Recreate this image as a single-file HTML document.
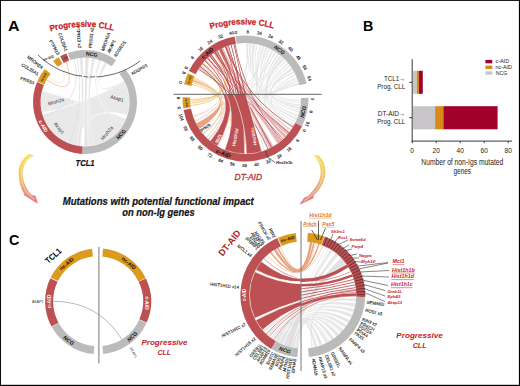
<!DOCTYPE html>
<html><head><meta charset="utf-8"><style>
html,body{margin:0;padding:0;background:#fff;}
svg{display:block;}
text{font-family:"Liberation Sans", sans-serif;}
</style></head><body>
<svg width="520" height="386" viewBox="0 0 520 386">
<rect x="0" y="0" width="520" height="386" fill="#fff"/>
<text x="8" y="30.7" font-size="14.3" fill="#000" font-weight="bold" font-style="normal" text-anchor="start" textLength="11.6" lengthAdjust="spacingAndGlyphs" >A</text>
<path d="M41.82,112.77A44.5,44.5 0 0 1 42.02,90.48Q85,102 126.26,118.67A44.5,44.5 0 0 1 88.1,146.39Q85,102 41.82,112.77Z" fill="#e9e9e9" stroke="#fff" stroke-width="0.8"/>
<path d="M77.27,145.82A44.5,44.5 0 0 1 42.22,114.27Q85,102 125,82.49A44.5,44.5 0 0 1 127.32,115.75Q85,102 77.27,145.82Z" fill="#e9e9e9" stroke="#fff" stroke-width="0.8"/>
<path d="M79.58,57.83A44.5,44.5 0 0 1 82.67,57.56Q85,102 80.35,146.26A44.5,44.5 0 0 1 77.27,145.82Q85,102 79.58,57.83Z" fill="#e4e4e4" stroke="#fff" stroke-width="0.4"/>
<path d="M85,57.5A44.5,44.5 0 0 1 88.88,57.67Q85,102 88.1,146.39A44.5,44.5 0 0 1 84.22,146.49Q85,102 85,57.5Z" fill="#e4e4e4" stroke="#fff" stroke-width="0.4"/>
<path d="M91.96,58.05A44.5,44.5 0 0 1 95.01,58.64Q85,102 93.49,145.68A44.5,44.5 0 0 1 90.42,146.17Q85,102 91.96,58.05Z" fill="#e6e6e6" stroke="#fff" stroke-width="0.4"/>
<path d="M98.75,59.68A44.5,44.5 0 0 1 100.95,60.46Q85,102 124.29,122.89A44.5,44.5 0 0 1 123.14,124.92Q85,102 98.75,59.68Z" fill="#e9e9e9" stroke="#fff" stroke-width="0.3"/>
<path d="M104.51,62A44.5,44.5 0 0 1 107.25,63.46Q85,102 124.29,81.11A44.5,44.5 0 0 1 125.65,83.9Q85,102 104.51,62Z" fill="#e9e9e9" stroke="#fff" stroke-width="0.3"/>
<path d="M74.23,58.82Q85,102 43.18,117.22" fill="none" stroke="#e0e0e0" stroke-width="0.8" />
<path d="M77.27,58.18Q85,102 69.78,143.82" fill="none" stroke="#e0e0e0" stroke-width="0.8" />
<path d="M66.19,61.67Q78,100 46.46,79.75" fill="none" stroke="#eeaa88" stroke-width="0.6" />
<path d="M60.76,64.68Q72,92 47.68,77.76" fill="none" stroke="#f6d2c0" stroke-width="0.5" />
<path d="M53.13,60.91A52,52 0 0 1 58.61,57.2L62.41,63.66A44.5,44.5 0 0 0 57.73,66.84Z" fill="#dc9a1e" />
<path d="M60.11,56.34A52,52 0 0 1 66.53,53.39L69.2,60.4A44.5,44.5 0 0 0 63.7,62.93Z" fill="#bc5052" />
<path d="M67.81,52.92A52,52 0 0 1 116.08,60.31L111.59,66.32A44.5,44.5 0 0 0 70.29,60Z" fill="#bbbbbb" />
<path d="M125.3,69.13A52,52 0 0 1 82.19,153.92L82.59,146.43A44.5,44.5 0 0 0 119.49,73.87Z" fill="#bbbbbb" />
<path d="M82.19,153.92A52,52 0 0 1 36.99,82.02L43.92,84.9A44.5,44.5 0 0 0 82.59,146.43Z" fill="#bc5052" />
<path d="M37.24,81.43A52,52 0 0 1 44.82,68.99L50.61,73.75A44.5,44.5 0 0 0 44.13,84.4Z" fill="#dc9a1e" />
<path d="M38,55A78,78 0 0 0 140,61" fill="none" stroke="#333" stroke-width="0.75"/>
<rect x="82" y="74" width="1.6" height="6" fill="#f2f2f2"/>
<rect x="88.2" y="74" width="1.6" height="6" fill="#f2f2f2"/>
<rect x="95" y="74" width="1.6" height="6" fill="#f2f2f2"/>
<text x="91.47" y="55.97" font-size="5.2" fill="#111" font-weight="bold" font-style="normal" text-anchor="middle" transform="rotate(8 91.47 55.97)" >NCG</text>
<text x="122.25" y="135.54" font-size="5.2" fill="#111" font-weight="bold" font-style="normal" text-anchor="middle" transform="rotate(312 122.25 135.54)" >NCG</text>
<text x="41.66" y="127.03" font-size="5" fill="#fff" font-weight="bold" font-style="normal" text-anchor="middle" transform="rotate(420 41.66 127.03)" >c-AID</text>
<text x="44.5" y="77.66" font-size="3" fill="#222" font-weight="bold" font-style="normal" text-anchor="middle" transform="rotate(301 44.5 77.66)" >nc-AID</text>
<text x="65.14" y="58.82" font-size="2.2" fill="#333" font-weight="bold" font-style="normal" text-anchor="middle" transform="rotate(335.3 65.14 58.82)" >c-AID</text>
<text x="48.8" y="59.2" font-size="3.6" fill="#222" font-weight="bold" font-style="normal" text-anchor="middle" transform="rotate(-18 48.8 59.2)" textLength="11" lengthAdjust="spacingAndGlyphs" >nc-AID</text>
<text x="56.5" y="103.3" font-size="5" fill="#333" font-weight="normal" font-style="normal" text-anchor="middle" transform="rotate(-16 56.5 103.3)" textLength="16.5" lengthAdjust="spacingAndGlyphs" >Mroh2a</text>
<text x="116.6" y="100.2" font-size="5" fill="#333" font-weight="normal" font-style="normal" text-anchor="middle" transform="rotate(16 116.6 100.2)" textLength="13.5" lengthAdjust="spacingAndGlyphs" >Akap1</text>
<text x="57.8" y="129.3" font-size="5" fill="#333" font-weight="normal" font-style="normal" text-anchor="middle" transform="rotate(50 57.8 129.3)" textLength="13.5" lengthAdjust="spacingAndGlyphs" >Akap1</text>
<text x="108.3" y="134.2" font-size="5" fill="#333" font-weight="normal" font-style="normal" text-anchor="middle" transform="rotate(-50 108.3 134.2)" textLength="16.5" lengthAdjust="spacingAndGlyphs" >Mroh2a</text>
<text x="57.08" y="55.4" font-size="4.4" fill="#222" font-weight="normal" font-style="normal" text-anchor="end" transform="rotate(60.7 57.08 55.4)" stroke="#222" stroke-width="0.12">PTPN13</text>
<text x="64.81" y="51.57" font-size="4.4" fill="#222" font-weight="normal" font-style="normal" text-anchor="end" transform="rotate(69.8 64.81 51.57)" stroke="#222" stroke-width="0.12">COL25A1</text>
<text x="78.26" y="48.1" font-size="4.4" fill="#222" font-weight="normal" font-style="normal" text-anchor="end" transform="rotate(84.5 78.26 48.1)" stroke="#222" stroke-width="0.12">PTPN13 x2</text>
<text x="91.74" y="48.1" font-size="4.4" fill="#222" font-weight="normal" font-style="normal" text-anchor="start" transform="rotate(-84.5 91.74 48.1)" stroke="#222" stroke-width="0.12">PRSS3 x2</text>
<text x="104.05" y="51.13" font-size="4.4" fill="#222" font-weight="normal" font-style="normal" text-anchor="start" transform="rotate(-71.1 104.05 51.13)" stroke="#222" stroke-width="0.12">MROH2A</text>
<text x="109.68" y="53.61" font-size="4.4" fill="#222" font-weight="normal" font-style="normal" text-anchor="start" transform="rotate(-64.6 109.68 53.61)" stroke="#222" stroke-width="0.12">AKAP1</text>
<text x="116.02" y="57.41" font-size="4.4" fill="#222" font-weight="normal" font-style="normal" text-anchor="start" transform="rotate(-56.8 116.02 57.41)" stroke="#222" stroke-width="0.12">ADGRD1</text>
<text x="132.34" y="75.35" font-size="4.4" fill="#222" font-weight="normal" font-style="normal" text-anchor="start" transform="rotate(-31 132.34 75.35)" stroke="#222" stroke-width="0.12">ADGRD1</text>
<text x="41.55" y="69.4" font-size="4.4" fill="#222" font-weight="normal" font-style="normal" text-anchor="end" transform="rotate(38.5 41.55 69.4)" stroke="#222" stroke-width="0.12">MROH2A</text>
<text x="37.52" y="75.6" font-size="4.4" fill="#222" font-weight="normal" font-style="normal" text-anchor="end" transform="rotate(30.7 37.52 75.6)" stroke="#222" stroke-width="0.12">COL25A1</text>
<text x="33.57" y="84.52" font-size="4.4" fill="#222" font-weight="normal" font-style="normal" text-anchor="end" transform="rotate(20.4 33.57 84.52)" stroke="#222" stroke-width="0.12">PRSS3</text>
<path id="arcA1" d="M50,31.6 Q82,22.4 114,30.8" fill="none"/>
<text font-size="8.6" font-weight="bold" fill="#c8221f" stroke="#c8221f" stroke-width="0.25" font-family='"Liberation Sans", sans-serif'><textPath href="#arcA1" startOffset="50%" text-anchor="middle" textLength="64" lengthAdjust="spacingAndGlyphs">Progressive CLL</textPath></text>
<text x="85" y="165.8" font-size="8.2" fill="#111" font-weight="bold" font-style="italic" text-anchor="middle" textLength="19" lengthAdjust="spacingAndGlyphs" stroke="#111" stroke-width="0.2">TCL1</text>
<path d="M245.98,43A55.5,55.5 0 0 1 247.92,43.05Q245.5,98.5 300.68,104.49A55.5,55.5 0 0 1 300.49,106.03Q245.5,98.5 245.98,43Z" fill="#e9e9e9" />
<path d="M249.56,43.15A55.5,55.5 0 0 1 251.11,43.28Q245.5,98.5 299.5,111.32A55.5,55.5 0 0 1 299.2,112.53Q245.5,98.5 249.56,43.15Z" fill="#e9e9e9" />
<path d="M252.55,43.45A55.5,55.5 0 0 1 254.85,43.79Q245.5,98.5 297.3,118.43A55.5,55.5 0 0 1 296.6,120.15Q245.5,98.5 252.55,43.45Z" fill="#e9e9e9" />
<path d="M256.47,44.09A55.5,55.5 0 0 1 257.61,44.34Q245.5,98.5 300.98,99.97A55.5,55.5 0 0 1 300.95,100.9Q245.5,98.5 256.47,44.09Z" fill="#e9e9e9" />
<path d="M259.77,44.87A55.5,55.5 0 0 1 260.89,45.18Q245.5,98.5 281.53,140.72A55.5,55.5 0 0 1 280.82,141.31Q245.5,98.5 259.77,44.87Z" fill="#e9e9e9" />
<path d="M263.02,45.84A55.5,55.5 0 0 1 264.12,46.22Q245.5,98.5 273.65,146.33A55.5,55.5 0 0 1 272.85,146.8Q245.5,98.5 263.02,45.84Z" fill="#e9e9e9" />
<path d="M265.84,46.86A55.5,55.5 0 0 1 267.63,47.6Q245.5,98.5 298.52,114.91A55.5,55.5 0 0 1 298.04,116.39Q245.5,98.5 265.84,46.86Z" fill="#e9e9e9" />
<path d="M269.31,48.36A55.5,55.5 0 0 1 270.35,48.87Q245.5,98.5 288.31,133.82A55.5,55.5 0 0 1 287.72,134.53Q245.5,98.5 269.31,48.36Z" fill="#e9e9e9" />
<path d="M272.15,49.82A55.5,55.5 0 0 1 273.5,50.58Q245.5,98.5 300.26,107.53A55.5,55.5 0 0 1 300.05,108.75Q245.5,98.5 272.15,49.82Z" fill="#e9e9e9" />
<path d="M275.24,51.64A55.5,55.5 0 0 1 276.21,52.27Q245.5,98.5 264.92,150.49A55.5,55.5 0 0 1 264.04,150.81Q245.5,98.5 275.24,51.64Z" fill="#e9e9e9" />
<path d="M278.04,53.54A55.5,55.5 0 0 1 278.98,54.23Q245.5,98.5 300.9,101.91A55.5,55.5 0 0 1 300.83,102.84Q245.5,98.5 278.04,53.54Z" fill="#e9e9e9" />
<path d="M280.28,55.25A55.5,55.5 0 0 1 282.06,56.74Q245.5,98.5 294.02,125.44A55.5,55.5 0 0 1 293.09,127.05Q245.5,98.5 280.28,55.25Z" fill="#e9e9e9" />
<path d="M282.85,57.45A55.5,55.5 0 0 1 284.54,59.05Q245.5,98.5 285.4,137.08A55.5,55.5 0 0 1 284.08,138.4Q245.5,98.5 282.85,57.45Z" fill="#e9e9e9" />
<path d="M285.69,60.23A55.5,55.5 0 0 1 286.48,61.08Q245.5,98.5 300.52,105.76A55.5,55.5 0 0 1 300.39,106.68Q245.5,98.5 285.69,60.23Z" fill="#e9e9e9" />
<path d="M287.83,62.6A55.5,55.5 0 0 1 288.81,63.8Q245.5,98.5 277.84,143.6A55.5,55.5 0 0 1 276.82,144.32Q245.5,98.5 287.83,62.6Z" fill="#e9e9e9" />
<path d="M290.06,65.41A55.5,55.5 0 0 1 290.74,66.35Q245.5,98.5 297.81,117.04A55.5,55.5 0 0 1 297.49,117.92Q245.5,98.5 290.06,65.41Z" fill="#e9e9e9" />
<path d="M291.67,67.71A55.5,55.5 0 0 1 292.92,69.67Q245.5,98.5 291.49,129.57A55.5,55.5 0 0 1 290.42,131.09Q245.5,98.5 291.67,67.71Z" fill="#e9e9e9" />
<path d="M293.76,71.09A55.5,55.5 0 0 1 294.32,72.1Q245.5,98.5 299.88,109.58A55.5,55.5 0 0 1 299.69,110.49Q245.5,98.5 293.76,71.09Z" fill="#e9e9e9" />
<path d="M295.34,74.08A55.5,55.5 0 0 1 295.84,75.13Q245.5,98.5 269.38,148.6A55.5,55.5 0 0 1 268.53,148.99Q245.5,98.5 295.34,74.08Z" fill="#e9e9e9" />
<path d="M296.66,76.99A55.5,55.5 0 0 1 297.24,78.43Q245.5,98.5 296.06,121.39A55.5,55.5 0 0 1 295.53,122.52Q245.5,98.5 296.66,76.99Z" fill="#e9e9e9" />
<path d="M297.94,80.34A55.5,55.5 0 0 1 298.31,81.44Q245.5,98.5 230.65,151.98A55.5,55.5 0 0 1 229.76,151.72Q245.5,98.5 297.94,80.34Z" fill="#e9e9e9" />
<path d="M298.66,82.55A55.5,55.5 0 0 1 299.28,84.79Q245.5,98.5 209.06,140.36A55.5,55.5 0 0 1 207.68,139.12Q245.5,98.5 298.66,82.55Z" fill="#e9e9e9" />
<path d="M248.4,43.08Q245.5,98.5 226.52,150.65" fill="none" stroke="#d9d9d9" stroke-width="0.45" />
<path d="M255.14,43.84Q245.5,98.5 208.36,139.74" fill="none" stroke="#d9d9d9" stroke-width="0.45" />
<path d="M251.3,43.3Q245.5,98.5 195.2,121.96" fill="none" stroke="#d9d9d9" stroke-width="0.45" />
<path d="M264.48,46.35Q245.5,98.5 235.86,153.16" fill="none" stroke="#d9d9d9" stroke-width="0.45" />
<path d="M272.41,49.96Q245.5,98.5 250.34,153.79" fill="none" stroke="#d9d9d9" stroke-width="0.45" />
<path d="M278.9,54.18Q245.5,98.5 257.04,152.79" fill="none" stroke="#d9d9d9" stroke-width="0.45" />
<path d="M284.74,59.26Q245.5,98.5 193.35,117.48" fill="none" stroke="#d9d9d9" stroke-width="0.45" />
<path d="M275.73,51.95Q245.5,98.5 217.75,146.56" fill="none" stroke="#d9d9d9" stroke-width="0.45" />
<path d="M289.82,65.1Q245.5,98.5 240.66,153.79" fill="none" stroke="#d9d9d9" stroke-width="0.45" />
<path d="M294.04,71.59Q245.5,98.5 202.98,134.17" fill="none" stroke="#d9d9d9" stroke-width="0.45" />
<path d="M268.96,48.2Q245.5,98.5 200.04,130.33" fill="none" stroke="#d9d9d9" stroke-width="0.45" />
<path d="M261.73,45.43Q245.5,98.5 281.17,141.02" fill="none" stroke="#d9d9d9" stroke-width="0.45" />
<path d="M282.64,57.26Q245.5,98.5 289.23,132.67" fill="none" stroke="#d9d9d9" stroke-width="0.45" />
<path d="M292.57,69.09Q245.5,98.5 300.16,108.14" fill="none" stroke="#d9d9d9" stroke-width="0.45" />
<path d="M297.65,79.52Q245.5,98.5 294.5,124.56" fill="none" stroke="#d9d9d9" stroke-width="0.45" />
<path d="M198.43,69.09A55.5,55.5 0 0 1 201.18,65.1Q245.5,98.5 273.25,146.56A55.5,55.5 0 0 1 268.07,149.2Q245.5,98.5 198.43,69.09Z" fill="#e6e6e6" />
<path d="M191.89,84.14Q245.5,98.5 226.52,150.65" fill="none" stroke="#efc070" stroke-width="0.7" />
<path d="M192.43,82.27Q245.5,98.5 202.98,134.17" fill="none" stroke="#efc070" stroke-width="0.7" />
<path d="M193.51,79.06Q245.5,98.5 237.78,153.46" fill="none" stroke="#efc070" stroke-width="0.7" />
<path d="M194.04,77.71Q245.5,98.5 206.26,137.74" fill="none" stroke="#efc070" stroke-width="0.7" />
<path d="M190.47,105.74Q245.5,98.5 202.98,62.83" fill="none" stroke="#ecbb5c" stroke-width="0.7" />
<path d="M190.21,103.34Q245.5,98.5 213.67,53.04" fill="none" stroke="#ecbb5c" stroke-width="0.7" />
<path d="M190.08,101.4Q245.5,98.5 219.44,49.5" fill="none" stroke="#ecbb5c" stroke-width="0.7" />
<path d="M190.01,99.47Q245.5,98.5 198.95,68.27" fill="none" stroke="#ecbb5c" stroke-width="0.7" />
<path d="M199.17,129.05A55.5,55.5 0 0 1 195.96,123.52Q245.5,98.5 192.78,81.17A55.5,55.5 0 0 1 193.15,80.07Q245.5,98.5 199.17,129.05Z" fill="#e9a27f" />
<path d="M208.36,139.74Q245.5,98.5 201.77,64.33" fill="none" stroke="#eebcb8" stroke-width="0.6" />
<path d="M202.98,134.17Q245.5,98.5 222.04,48.2" fill="none" stroke="#eebcb8" stroke-width="0.6" />
<path d="M194.8,121.07Q245.5,98.5 206.95,58.58" fill="none" stroke="#eebcb8" stroke-width="0.6" />
<path d="M193.02,116.57Q245.5,98.5 219.44,49.5" fill="none" stroke="#eebcb8" stroke-width="0.6" />
<path d="M213.67,53.04A55.5,55.5 0 0 1 216.92,50.93Q245.5,98.5 273.25,146.56A55.5,55.5 0 0 1 269.83,148.38Q245.5,98.5 213.67,53.04Z" fill="#e7b3b3" />
<path d="M219.44,49.5A55.5,55.5 0 0 1 222.93,47.8Q245.5,98.5 281.17,141.02A55.5,55.5 0 0 1 278.12,143.4Q245.5,98.5 219.44,49.5Z" fill="#e7b3b3" />
<path d="M209.09,56.61A55.5,55.5 0 0 1 211.33,54.77Q245.5,98.5 289.23,132.67A55.5,55.5 0 0 1 287.39,134.91Q245.5,98.5 209.09,56.61Z" fill="#e7b3b3" />
<path d="M224.71,47.04A55.5,55.5 0 0 1 227.43,46.02Q245.5,98.5 286.74,135.64A55.5,55.5 0 0 1 284.74,137.74Q245.5,98.5 224.71,47.04Z" fill="#e7b3b3" />
<path d="M198.43,69.09Q245.5,98.5 268.07,149.2" fill="none" stroke="#b8393d" stroke-width="0.7" />
<path d="M207.65,57.91Q245.5,98.5 283.35,139.09" fill="none" stroke="#b8393d" stroke-width="0.7" />
<path d="M214.46,52.49Q245.5,98.5 289.23,132.67" fill="none" stroke="#b8393d" stroke-width="0.7" />
<path d="M225.61,46.69Q245.5,98.5 293.07,127.08" fill="none" stroke="#b8393d" stroke-width="0.7" />
<path d="M234.91,44.02Q245.5,98.5 281.91,140.39" fill="none" stroke="#b8393d" stroke-width="0.7" />
<path d="M220.3,49.05Q245.5,98.5 271.56,147.5" fill="none" stroke="#b8393d" stroke-width="0.7" />
<path d="M205.58,59.95Q245.5,98.5 280.43,141.63" fill="none" stroke="#e8b8b8" stroke-width="0.7" />
<path d="M217.75,50.44Q245.5,98.5 290.96,130.33" fill="none" stroke="#e8b8b8" stroke-width="0.7" />
<path d="M214.95,52.17A55.5,55.5 0 0 1 215.6,51.74Q245.5,98.5 217.25,146.27A55.5,55.5 0 0 1 214.76,144.71Q245.5,98.5 214.95,52.17Z" fill="#b54446" />
<path d="M204.65,60.93A55.5,55.5 0 0 1 205.18,60.37Q245.5,98.5 214.76,144.71A55.5,55.5 0 0 1 212.36,143.02Q245.5,98.5 204.65,60.93Z" fill="#b54446" />
<path d="M199.82,66.98A55.5,55.5 0 0 1 200.26,66.35Q245.5,98.5 212.36,143.02A55.5,55.5 0 0 1 210.05,141.2Q245.5,98.5 199.82,66.98Z" fill="#b54446" />
<path d="M230.76,44.99A55.5,55.5 0 0 1 231.51,44.79Q245.5,98.5 244.53,153.99A55.5,55.5 0 0 1 241.63,153.86Q245.5,98.5 230.76,44.99Z" fill="#b54446" />
<path d="M225.25,46.83A55.5,55.5 0 0 1 225.97,46.55Q245.5,98.5 241.63,153.86A55.5,55.5 0 0 1 238.74,153.59Q245.5,98.5 225.25,46.83Z" fill="#b54446" />
<path d="M220.82,48.79A55.5,55.5 0 0 1 221.52,48.45Q245.5,98.5 238.74,153.59A55.5,55.5 0 0 1 235.86,153.16Q245.5,98.5 220.82,48.79Z" fill="#b54446" />
<path d="M216.58,51.13A55.5,55.5 0 0 1 217.25,50.73Q245.5,98.5 235.86,153.16A55.5,55.5 0 0 1 233.02,152.58Q245.5,98.5 216.58,51.13Z" fill="#b54446" />
<path d="M211.03,55.01A55.5,55.5 0 0 1 211.64,54.53Q245.5,98.5 233.02,152.58A55.5,55.5 0 0 1 230.2,151.85Q245.5,98.5 211.03,55.01Z" fill="#b54446" />
<path d="M207.37,58.18A55.5,55.5 0 0 1 207.93,57.65Q245.5,98.5 230.2,151.85A55.5,55.5 0 0 1 227.43,150.98Q245.5,98.5 207.37,58.18Z" fill="#b54446" />
<path d="M202.13,63.87A55.5,55.5 0 0 1 202.61,63.27Q245.5,98.5 227.43,150.98A55.5,55.5 0 0 1 224.71,149.96Q245.5,98.5 202.13,63.87Z" fill="#b54446" />
<path d="M233.58,44.29A55.5,55.5 0 0 1 234.34,44.13Q245.5,98.5 261.73,151.57A55.5,55.5 0 0 1 257.98,152.58Q245.5,98.5 233.58,44.29Z" fill="#b54446" />
<path d="M227.98,45.84A55.5,55.5 0 0 1 228.72,45.6Q245.5,98.5 257.98,152.58A55.5,55.5 0 0 1 254.18,153.32Q245.5,98.5 227.98,45.84Z" fill="#b54446" />
<path d="M219.1,49.68A55.5,55.5 0 0 1 219.79,49.32Q245.5,98.5 254.18,153.32A55.5,55.5 0 0 1 250.34,153.79Q245.5,98.5 219.1,49.68Z" fill="#b54446" />
<path d="M209.53,56.23A55.5,55.5 0 0 1 210.12,55.74Q245.5,98.5 250.34,153.79A55.5,55.5 0 0 1 246.47,153.99Q245.5,98.5 209.53,56.23Z" fill="#b54446" />
<clipPath id="cpA2"><rect x="170" y="94.3" width="160" height="80"/></clipPath>
<g clip-path="url(#cpA2)">
<path d="M199.76,67.06A55.5,55.5 0 0 1 215.68,51.69Q245.5,98.5 217.25,146.27A55.5,55.5 0 0 1 210.05,141.2Q245.5,98.5 199.76,67.06Z" fill="#bc5052" stroke="#fff" stroke-width="0.6"/>
<path d="M202.07,63.95A55.5,55.5 0 0 1 231.6,44.77Q245.5,98.5 244.53,153.99A55.5,55.5 0 0 1 224.71,149.96Q245.5,98.5 202.07,63.95Z" fill="#bc5052" stroke="#fff" stroke-width="0.6"/>
<path d="M209.46,56.3A55.5,55.5 0 0 1 234.44,44.11Q245.5,98.5 261.73,151.57A55.5,55.5 0 0 1 246.47,153.99Q245.5,98.5 209.46,56.3Z" fill="#bc5052" stroke="#fff" stroke-width="0.6"/>
</g>
<path d="M184.11,84.33A63,63 0 0 1 187.81,73.18L194.68,76.19A55.5,55.5 0 0 0 191.42,86.02Z" fill="#dc9a1e" />
<path d="M188.88,70.88A63,63 0 0 1 234.67,36.44L235.96,43.83A55.5,55.5 0 0 0 195.62,74.17Z" fill="#bc5052" />
<path d="M235.54,36.29A63,63 0 0 1 306.71,83.58L299.42,85.36A55.5,55.5 0 0 0 236.72,43.7Z" fill="#bbbbbb" />
<path d="M308.5,97.84A63,63 0 0 1 301.98,126.41L295.25,123.09A55.5,55.5 0 0 0 301,97.92Z" fill="#bbbbbb" />
<path d="M301.98,126.41A63,63 0 0 1 183.55,109.98L190.93,108.61A55.5,55.5 0 0 0 295.25,123.09Z" fill="#bc5052" />
<path d="M183.31,108.57A63,63 0 0 1 182.51,97.29L190.01,97.43A55.5,55.5 0 0 0 190.71,107.37Z" fill="#dc9a1e" />
<line x1="173.5" y1="94.3" x2="321.7" y2="94.3" stroke="#555" stroke-width="0.9"/>
<text x="208.66" y="54.6" font-size="5.4" fill="#111" font-weight="bold" font-style="normal" text-anchor="middle" transform="rotate(320 208.66 54.6)" >c-AID</text>
<text x="278.37" y="51.55" font-size="5.4" fill="#111" font-weight="bold" font-style="italic" text-anchor="middle" transform="rotate(35 278.37 51.55)" >NCG</text>
<text x="305.02" y="112.24" font-size="5.4" fill="#111" font-weight="bold" font-style="italic" text-anchor="middle" transform="rotate(283 305.02 112.24)" >NCG</text>
<text x="222.56" y="155.27" font-size="5.8" fill="#111" font-weight="bold" font-style="italic" text-anchor="middle" transform="rotate(382 222.56 155.27)" >c-AID</text>
<text x="190.22" y="80" font-size="2.6" fill="#222" font-weight="bold" font-style="normal" text-anchor="middle" transform="rotate(288.5 190.22 80)" >nc-AID</text>
<text x="185.54" y="102.69" font-size="2.6" fill="#222" font-weight="bold" font-style="normal" text-anchor="middle" transform="rotate(446 185.54 102.69)" >nc-AID</text>
<text x="206.3" y="128.8" font-size="4.6" fill="#111" font-weight="bold" font-style="normal" text-anchor="middle" transform="rotate(-36 206.3 128.8)" textLength="11.5" lengthAdjust="spacingAndGlyphs" >Prkch</text>
<text x="219.8" y="139.3" font-size="4.6" fill="#fff" font-weight="bold" font-style="normal" text-anchor="middle" transform="rotate(-64 219.8 139.3)" textLength="9.5" lengthAdjust="spacingAndGlyphs" >Mcl1</text>
<text x="236.8" y="137.5" font-size="4.4" fill="#fff" font-weight="bold" font-style="normal" text-anchor="middle" transform="rotate(-80 236.8 137.5)" textLength="18" lengthAdjust="spacingAndGlyphs" >Hist1h1d</text>
<text x="255.3" y="136" font-size="4.4" fill="#fff" font-weight="bold" font-style="normal" text-anchor="middle" transform="rotate(-100 255.3 136)" textLength="18" lengthAdjust="spacingAndGlyphs" >Hist1h1c</text>
<text x="187.52" y="68.32" font-size="4.4" fill="#222" font-weight="normal" font-style="normal" text-anchor="middle" transform="rotate(297.5 187.52 68.32)" stroke="#222" stroke-width="0.15">0</text>
<text x="193.72" y="58.62" font-size="4.4" fill="#222" font-weight="normal" font-style="normal" text-anchor="middle" transform="rotate(307.6 193.72 58.62)" stroke="#222" stroke-width="0.15">8</text>
<text x="201.51" y="50.16" font-size="4.4" fill="#222" font-weight="normal" font-style="normal" text-anchor="middle" transform="rotate(317.7 201.51 50.16)" stroke="#222" stroke-width="0.15">16</text>
<text x="210.67" y="43.19" font-size="4.4" fill="#222" font-weight="normal" font-style="normal" text-anchor="middle" transform="rotate(327.8 210.67 43.19)" stroke="#222" stroke-width="0.15">24</text>
<text x="220.91" y="37.94" font-size="4.4" fill="#222" font-weight="normal" font-style="normal" text-anchor="middle" transform="rotate(337.9 220.91 37.94)" stroke="#222" stroke-width="0.15">32</text>
<text x="231.91" y="34.57" font-size="4.4" fill="#222" font-weight="normal" font-style="normal" text-anchor="middle" transform="rotate(348 231.91 34.57)" stroke="#222" stroke-width="0.15">40</text>
<text x="236.18" y="33.81" font-size="4.4" fill="#222" font-weight="normal" font-style="normal" text-anchor="middle" transform="rotate(351.8 236.18 33.81)" stroke="#222" stroke-width="0.15">0</text>
<text x="247.67" y="33.18" font-size="4.4" fill="#222" font-weight="normal" font-style="normal" text-anchor="middle" transform="rotate(1.9 247.67 33.18)" stroke="#222" stroke-width="0.15">8</text>
<text x="259.09" y="34.57" font-size="4.4" fill="#222" font-weight="normal" font-style="normal" text-anchor="middle" transform="rotate(12 259.09 34.57)" stroke="#222" stroke-width="0.15">16</text>
<text x="270.09" y="37.94" font-size="4.4" fill="#222" font-weight="normal" font-style="normal" text-anchor="middle" transform="rotate(22.1 270.09 37.94)" stroke="#222" stroke-width="0.15">24</text>
<text x="280.33" y="43.19" font-size="4.4" fill="#222" font-weight="normal" font-style="normal" text-anchor="middle" transform="rotate(32.2 280.33 43.19)" stroke="#222" stroke-width="0.15">32</text>
<text x="289.49" y="50.16" font-size="4.4" fill="#222" font-weight="normal" font-style="normal" text-anchor="middle" transform="rotate(42.3 289.49 50.16)" stroke="#222" stroke-width="0.15">40</text>
<text x="297.28" y="58.62" font-size="4.4" fill="#222" font-weight="normal" font-style="normal" text-anchor="middle" transform="rotate(52.4 297.28 58.62)" stroke="#222" stroke-width="0.15">48</text>
<text x="303.48" y="68.32" font-size="4.4" fill="#222" font-weight="normal" font-style="normal" text-anchor="middle" transform="rotate(62.5 303.48 68.32)" stroke="#222" stroke-width="0.15">56</text>
<text x="307.87" y="78.95" font-size="4.4" fill="#222" font-weight="normal" font-style="normal" text-anchor="middle" transform="rotate(72.6 307.87 78.95)" stroke="#222" stroke-width="0.15">64</text>
<text x="182.08" y="82.69" font-size="4.4" fill="#222" font-weight="normal" font-style="normal" text-anchor="middle" transform="rotate(284 182.08 82.69)" stroke="#222" stroke-width="0.15">0</text>
<text x="185.12" y="73.49" font-size="4.4" fill="#222" font-weight="normal" font-style="normal" text-anchor="middle" transform="rotate(292.5 185.12 73.49)" stroke="#222" stroke-width="0.15">8</text>
<text x="305.65" y="131.16" font-size="4.4" fill="#222" font-weight="normal" font-style="normal" text-anchor="middle" transform="rotate(298.5 305.65 131.16)" stroke="#222" stroke-width="0.15">0</text>
<text x="298.76" y="141.48" font-size="4.4" fill="#222" font-weight="normal" font-style="normal" text-anchor="middle" transform="rotate(308.9 298.76 141.48)" stroke="#222" stroke-width="0.15">8</text>
<text x="290.13" y="150.39" font-size="4.4" fill="#222" font-weight="normal" font-style="normal" text-anchor="middle" transform="rotate(319.3 290.13 150.39)" stroke="#222" stroke-width="0.15">16</text>
<text x="280.03" y="157.59" font-size="4.4" fill="#222" font-weight="normal" font-style="normal" text-anchor="middle" transform="rotate(329.7 280.03 157.59)" stroke="#222" stroke-width="0.15">24</text>
<text x="268.8" y="162.85" font-size="4.4" fill="#222" font-weight="normal" font-style="normal" text-anchor="middle" transform="rotate(340.1 268.8 162.85)" stroke="#222" stroke-width="0.15">32</text>
<text x="256.8" y="166" font-size="4.4" fill="#222" font-weight="normal" font-style="normal" text-anchor="middle" transform="rotate(350.5 256.8 166)" stroke="#222" stroke-width="0.15">40</text>
<text x="244.42" y="166.93" font-size="4.4" fill="#222" font-weight="normal" font-style="normal" text-anchor="middle" transform="rotate(360.9 244.42 166.93)" stroke="#222" stroke-width="0.15">48</text>
<text x="232.09" y="165.61" font-size="4.4" fill="#222" font-weight="normal" font-style="normal" text-anchor="middle" transform="rotate(371.3 232.09 165.61)" stroke="#222" stroke-width="0.15">56</text>
<text x="220.19" y="162.09" font-size="4.4" fill="#222" font-weight="normal" font-style="normal" text-anchor="middle" transform="rotate(381.7 220.19 162.09)" stroke="#222" stroke-width="0.15">64</text>
<text x="209.13" y="156.48" font-size="4.4" fill="#222" font-weight="normal" font-style="normal" text-anchor="middle" transform="rotate(392.1 209.13 156.48)" stroke="#222" stroke-width="0.15">72</text>
<text x="199.26" y="148.96" font-size="4.4" fill="#222" font-weight="normal" font-style="normal" text-anchor="middle" transform="rotate(402.5 199.26 148.96)" stroke="#222" stroke-width="0.15">80</text>
<text x="190.91" y="139.78" font-size="4.4" fill="#222" font-weight="normal" font-style="normal" text-anchor="middle" transform="rotate(412.9 190.91 139.78)" stroke="#222" stroke-width="0.15">88</text>
<text x="184.36" y="129.25" font-size="4.4" fill="#222" font-weight="normal" font-style="normal" text-anchor="middle" transform="rotate(423.3 184.36 129.25)" stroke="#222" stroke-width="0.15">96</text>
<text x="179.81" y="117.71" font-size="4.4" fill="#222" font-weight="normal" font-style="normal" text-anchor="middle" transform="rotate(433.7 179.81 117.71)" stroke="#222" stroke-width="0.15">104</text>
<text x="313.94" y="99.1" font-size="4.4" fill="#222" font-weight="normal" font-style="normal" text-anchor="middle" transform="rotate(270.5 313.94 99.1)" stroke="#222" stroke-width="0.15">0</text>
<text x="312.57" y="112.14" font-size="4.4" fill="#222" font-weight="normal" font-style="normal" text-anchor="middle" transform="rotate(281.5 312.57 112.14)" stroke="#222" stroke-width="0.15">8</text>
<text x="308.73" y="124.69" font-size="4.4" fill="#222" font-weight="normal" font-style="normal" text-anchor="middle" transform="rotate(292.5 308.73 124.69)" stroke="#222" stroke-width="0.15">16</text>
<text x="177.73" y="108.03" font-size="4.4" fill="#222" font-weight="normal" font-style="normal" text-anchor="middle" transform="rotate(442 177.73 108.03)" stroke="#222" stroke-width="0.15">0</text>
<text x="180.14" y="97.93" font-size="4.4" fill="#222" font-weight="normal" font-style="normal" text-anchor="middle" transform="rotate(270.5 180.14 97.93)" stroke="#222" stroke-width="0.15">8</text>
<path d="M265.6,151.2 L268.2,157.6 L275,162.4" fill="none" stroke="#333" stroke-width="0.7"/>
<text x="276" y="164" font-size="3.9" fill="#111" font-weight="bold" font-style="normal" text-anchor="start" >Hist1h1b</text>
<path id="arcA2" d="M210.5,29.4 Q242,19.8 273.6,28.6" fill="none"/>
<text font-size="8.6" font-weight="bold" fill="#c8221f" stroke="#c8221f" stroke-width="0.25" font-family='"Liberation Sans", sans-serif'><textPath href="#arcA2" startOffset="50%" text-anchor="middle" textLength="64" lengthAdjust="spacingAndGlyphs">Progressive CLL</textPath></text>
<text x="248.3" y="180.4" font-size="8.8" fill="#bb3a3e" font-weight="normal" font-style="italic" text-anchor="middle" textLength="27.4" lengthAdjust="spacingAndGlyphs" stroke="#bb3a3e" stroke-width="0.35">DT-AID</text>
<text x="363" y="30.7" font-size="14.3" fill="#000" font-weight="bold" font-style="normal" text-anchor="start" >B</text>
<line x1="412.2" y1="59.2" x2="412.2" y2="141.5" stroke="#222" stroke-width="0.9"/>
<line x1="411.8" y1="141.1" x2="512" y2="141.1" stroke="#222" stroke-width="0.9"/>
<line x1="409.2" y1="82.3" x2="412.2" y2="82.3" stroke="#222" stroke-width="0.9"/>
<line x1="409.2" y1="117.7" x2="412.2" y2="117.7" stroke="#222" stroke-width="0.9"/>
<line x1="412.2" y1="141" x2="412.2" y2="143.2" stroke="#222" stroke-width="0.9"/>
<text x="412.2" y="152.5" font-size="6.6" fill="#222" font-weight="normal" font-style="normal" text-anchor="middle" >0</text>
<line x1="436.2" y1="141" x2="436.2" y2="143.2" stroke="#222" stroke-width="0.9"/>
<text x="436.2" y="152.5" font-size="6.6" fill="#222" font-weight="normal" font-style="normal" text-anchor="middle" >20</text>
<line x1="460.2" y1="141" x2="460.2" y2="143.2" stroke="#222" stroke-width="0.9"/>
<text x="460.2" y="152.5" font-size="6.6" fill="#222" font-weight="normal" font-style="normal" text-anchor="middle" >40</text>
<line x1="484.2" y1="141" x2="484.2" y2="143.2" stroke="#222" stroke-width="0.9"/>
<text x="484.2" y="152.5" font-size="6.6" fill="#222" font-weight="normal" font-style="normal" text-anchor="middle" >60</text>
<line x1="508.2" y1="141" x2="508.2" y2="143.2" stroke="#222" stroke-width="0.9"/>
<text x="508.2" y="152.5" font-size="6.6" fill="#222" font-weight="normal" font-style="normal" text-anchor="middle" >80</text>
<rect x="413" y="70.8" width="3.8" height="23" fill="#c7c5ca"/>
<rect x="416.8" y="70.8" width="2.1" height="23" fill="#d98a16"/>
<rect x="418.9" y="70.8" width="3.9" height="23" fill="#a1002b"/>
<rect x="413" y="106.2" width="22.1" height="23.1" fill="#c7c5ca"/>
<rect x="435.1" y="106.2" width="8.3" height="23.1" fill="#d98a16"/>
<rect x="443.4" y="106.2" width="54.2" height="23.1" fill="#a1002b"/>
<rect x="485.4" y="59.9" width="6.9" height="3.4" fill="#a1002b"/>
<rect x="485.4" y="65.6" width="6.9" height="3.4" fill="#d98a16"/>
<rect x="485.4" y="71.3" width="6.9" height="3.4" fill="#c7c5ca"/>
<text x="495.4" y="63.3" font-size="4.7" fill="#1a1a1a" font-weight="normal" font-style="normal" text-anchor="start" textLength="13.7" lengthAdjust="spacingAndGlyphs" >c-AID</text>
<text x="495.4" y="68.8" font-size="4.7" fill="#1a1a1a" font-weight="normal" font-style="normal" text-anchor="start" textLength="16.5" lengthAdjust="spacingAndGlyphs" >nc-AID</text>
<text x="495.8" y="74.6" font-size="4.7" fill="#1a1a1a" font-weight="normal" font-style="normal" text-anchor="start" textLength="11.5" lengthAdjust="spacingAndGlyphs" >NCG</text>
<text x="405.3" y="81.3" font-size="6.6" fill="#222" font-weight="normal" font-style="normal" text-anchor="end" textLength="21.3" lengthAdjust="spacingAndGlyphs" >TCL1→</text>
<text x="405.3" y="89" font-size="6.6" fill="#222" font-weight="normal" font-style="normal" text-anchor="end" textLength="28.1" lengthAdjust="spacingAndGlyphs" >Prog. CLL</text>
<text x="405.3" y="116.3" font-size="6.6" fill="#222" font-weight="normal" font-style="normal" text-anchor="end" textLength="27.5" lengthAdjust="spacingAndGlyphs" >DT-AID→</text>
<text x="405.3" y="124.1" font-size="6.6" fill="#222" font-weight="normal" font-style="normal" text-anchor="end" textLength="28.1" lengthAdjust="spacingAndGlyphs" >Prog. CLL</text>
<text x="462.3" y="164.6" font-size="8.4" fill="#1a1a1a" font-weight="normal" font-style="normal" text-anchor="middle" textLength="82" lengthAdjust="spacingAndGlyphs" >Number of non-Igs mutated</text>
<text x="462.3" y="174.3" font-size="8.4" fill="#1a1a1a" font-weight="normal" font-style="normal" text-anchor="middle" textLength="17.5" lengthAdjust="spacingAndGlyphs" >genes</text>
<defs>
<linearGradient id="ga" gradientUnits="userSpaceOnUse" x1="0" y1="154" x2="0" y2="204">
<stop offset="0" stop-color="#f7dc45"/><stop offset="0.45" stop-color="#f1c55a"/>
<stop offset="0.8" stop-color="#e99080"/><stop offset="1" stop-color="#e27276"/></linearGradient>
<linearGradient id="gb" gradientUnits="userSpaceOnUse" x1="0" y1="154" x2="0" y2="204">
<stop offset="0" stop-color="#f9eba8"/><stop offset="0.5" stop-color="#f3d2a8"/>
<stop offset="1" stop-color="#efaaa8"/></linearGradient>
</defs>
<path d="M29.5,153.9 C22,158.5 18.3,166 18.6,173.3 C18.9,182 21,189 24.2,194 L24,195.3 L37.9,203.7 L35.6,195.8 L31.2,194.8 C26.5,189 23,182 22.6,174 C22.4,166 26.5,159 34.1,155.4 Z" fill="url(#ga)"/>
<path d="M31.5,155.2 C24.5,160 21.2,166.5 21.1,173.6 C21,181.5 24,189 28.5,194.5 L34.5,199.5" fill="none" stroke="url(#gb)" stroke-width="1.3"/>
<path d="M318.6,155.2 C323.5,160 325.8,167 325.4,173 C325,181 320,190 313.6,195.5 L313.6,198.3 L299.3,204.7 L304.3,197.5 L307.8,196.3 C314.5,190 319.8,182 320.6,174 C321.2,166 318.5,160 313.3,155.2 Z" fill="url(#ga)"/>
<path d="M315.5,155.5 C320.5,160.5 323.2,167 323,173.5 C322.6,182 317.5,190 310.5,196 L303.5,201.5" fill="none" stroke="url(#gb)" stroke-width="1.3"/>
<text x="158.2" y="205.4" font-size="10" fill="#111" font-weight="bold" font-style="italic" text-anchor="middle" textLength="191" lengthAdjust="spacingAndGlyphs" stroke="#111" stroke-width="0.2">Mutations with potential functional impact</text>
<text x="158.5" y="216.3" font-size="10" fill="#111" font-weight="bold" font-style="italic" text-anchor="middle" textLength="72.5" lengthAdjust="spacingAndGlyphs" stroke="#111" stroke-width="0.2">on non-Ig genes</text>
<text x="9.1" y="244.9" font-size="14.3" fill="#000" font-weight="bold" font-style="normal" text-anchor="start" >C</text>
<path d="M53.1,301.3Q98.1,301.3 121.95,339.46" fill="none" stroke="#8a8a8a" stroke-width="0.6" />
<path d="M50.75,277.49A53,53 0 0 1 92.01,248.65L92.93,256.6A45,45 0 0 0 57.9,281.08Z" fill="#dc9a1e" />
<path d="M51.43,326.43A53,53 0 0 1 50.34,278.32L57.55,281.79A45,45 0 0 0 58.48,322.63Z" fill="#bc5052" />
<path d="M93.67,354.11A53,53 0 0 1 51.66,326.83L58.67,322.98A45,45 0 0 0 94.33,346.14Z" fill="#bbbbbb" />
<path d="M103.09,248.54A53,53 0 0 1 145.7,277.98L138.51,281.5A45,45 0 0 0 102.33,256.5Z" fill="#dc9a1e" />
<path d="M145.9,278.4A53,53 0 0 1 146.67,322.52L139.34,319.32A45,45 0 0 0 138.68,281.86Z" fill="#bc5052" />
<path d="M146.48,322.94A53,53 0 0 1 103.18,354.06L102.41,346.09A45,45 0 0 0 139.18,319.67Z" fill="#bbbbbb" />
<line x1="98.9" y1="247" x2="98.9" y2="363.5" stroke="#777" stroke-width="1.0"/>
<text x="67.77" y="265.16" font-size="5.2" fill="#111" font-weight="bold" font-style="normal" text-anchor="middle" transform="rotate(320 67.77 265.16)" >nc-AID</text>
<text x="50.92" y="301.3" font-size="5.2" fill="#fff" font-weight="bold" font-style="normal" text-anchor="middle" transform="rotate(270 50.92 301.3)" >c-AID</text>
<text x="67.47" y="341.94" font-size="5.4" fill="#111" font-weight="bold" font-style="italic" text-anchor="middle" transform="rotate(397 67.47 341.94)" >NCG</text>
<text x="127.79" y="264.63" font-size="5.2" fill="#111" font-weight="bold" font-style="normal" text-anchor="middle" transform="rotate(39 127.79 264.63)" >nc-AID</text>
<text x="145.25" y="302.95" font-size="5.2" fill="#fff" font-weight="bold" font-style="normal" text-anchor="middle" transform="rotate(92 145.25 302.95)" >c-AID</text>
<text x="133.45" y="337.91" font-size="5.4" fill="#111" font-weight="bold" font-style="italic" text-anchor="middle" transform="rotate(316 133.45 337.91)" >NCG</text>
<text x="43.5" y="302.8" font-size="3.9" fill="#333" font-weight="normal" font-style="normal" text-anchor="end" textLength="11.5" lengthAdjust="spacingAndGlyphs" >AKAP1</text>
<text x="129.5" y="348" font-size="3.9" fill="#333" font-weight="normal" font-style="normal" text-anchor="start" transform="rotate(62 129.5 348)" textLength="11.5" lengthAdjust="spacingAndGlyphs" >AKAP1</text>
<text x="55.2" y="257.9" font-size="8.3" fill="#000" font-weight="bold" font-style="normal" text-anchor="middle" transform="rotate(-42 55.2 257.9)" textLength="18.5" lengthAdjust="spacingAndGlyphs" >TCL1</text>
<text x="164.5" y="344.5" font-size="7.6" fill="#c8221f" font-weight="bold" font-style="italic" text-anchor="middle" textLength="46.2" lengthAdjust="spacingAndGlyphs" >Progressive</text>
<text x="164.3" y="355.2" font-size="7.6" fill="#c8221f" font-weight="bold" font-style="italic" text-anchor="middle" textLength="13.4" lengthAdjust="spacingAndGlyphs" >CLL</text>
<path d="M355.64,303.37A53.5,53.5 0 0 1 354.93,307.03Q302.8,295 268.41,335.98A53.5,53.5 0 0 1 266.31,334.13Q302.8,295 355.64,303.37Z" fill="#e6e6e6" stroke="#fff" stroke-width="0.35"/>
<path d="M354.48,308.85A53.5,53.5 0 0 1 353.39,312.42Q302.8,295 272.88,339.35A53.5,53.5 0 0 1 270.6,337.73Q302.8,295 354.48,308.85Z" fill="#e8e8e8" stroke="#fff" stroke-width="0.35"/>
<path d="M352.75,314.17A53.5,53.5 0 0 1 351.29,317.61Q302.8,295 276.86,341.79A53.5,53.5 0 0 1 274.45,340.37Q302.8,295 352.75,314.17Z" fill="#e6e6e6" stroke="#fff" stroke-width="0.35"/>
<path d="M350.04,320.12A53.5,53.5 0 0 1 348.17,323.35Q302.8,295 281.04,343.87A53.5,53.5 0 0 1 278.51,342.67Q302.8,295 350.04,320.12Z" fill="#e8e8e8" stroke="#fff" stroke-width="0.35"/>
<path d="M347.15,324.92A53.5,53.5 0 0 1 344.96,327.94Q302.8,295 285.38,345.59A53.5,53.5 0 0 1 282.76,344.6Q302.8,295 347.15,324.92Z" fill="#e6e6e6" stroke="#fff" stroke-width="0.35"/>
<path d="M343.78,329.39A53.5,53.5 0 0 1 341.28,332.16Q302.8,295 289.86,346.91A53.5,53.5 0 0 1 287.16,346.16Q302.8,295 343.78,329.39Z" fill="#e8e8e8" stroke="#fff" stroke-width="0.35"/>
<path d="M339.29,334.13A53.5,53.5 0 0 1 336.47,336.58Q302.8,295 294.43,347.84A53.5,53.5 0 0 1 291.68,347.33Q302.8,295 339.29,334.13Z" fill="#e6e6e6" stroke="#fff" stroke-width="0.35"/>
<path d="M334.25,338.28A53.5,53.5 0 0 1 331.15,340.37Q302.8,295 298.14,348.3A53.5,53.5 0 0 1 295.35,347.98Q302.8,295 334.25,338.28Z" fill="#e8e8e8" stroke="#fff" stroke-width="0.35"/>
<path d="M328.74,341.79A53.5,53.5 0 0 1 325.41,343.49Q302.8,295 264.32,332.16A53.5,53.5 0 0 1 262.42,330.1Q302.8,295 328.74,341.79Z" fill="#eaeaea" stroke="#fff" stroke-width="0.35"/>
<path d="M322.84,344.6A53.5,53.5 0 0 1 319.33,345.88Q302.8,295 277.68,342.24A53.5,53.5 0 0 1 275.25,340.86Q302.8,295 322.84,344.6Z" fill="#e8e8e8" stroke="#fff" stroke-width="0.35"/>
<path d="M317.55,346.43A53.5,53.5 0 0 1 313.92,347.33Q302.8,295 286.27,345.88A53.5,53.5 0 0 1 283.63,344.95Q302.8,295 317.55,346.43Z" fill="#eaeaea" stroke="#fff" stroke-width="0.35"/>
<path d="M356.17,298.73A53.5,53.5 0 0 1 355.9,301.52Q302.8,295 260.64,327.94A53.5,53.5 0 0 1 259.52,326.45Q302.8,295 356.17,298.73Z" fill="#eaeaea" stroke="#fff" stroke-width="0.35"/>
<path d="M341.28,257.84A53.5,53.5 0 0 1 346.08,263.55Q302.8,295 291.68,347.33A53.5,53.5 0 0 1 284.5,345.27Q302.8,295 341.28,257.84Z" fill="#e2e2e2" />
<path d="M335.74,252.84A53.5,53.5 0 0 1 338.6,255.24Q302.8,295 282.76,344.6A53.5,53.5 0 0 1 280.19,343.49Q302.8,295 335.74,252.84Z" fill="#e6e6e6" />
<path d="M330.35,249.14A53.5,53.5 0 0 1 332.72,250.65Q302.8,295 278.51,342.67A53.5,53.5 0 0 1 276.86,341.79Q302.8,295 330.35,249.14Z" fill="#e8e8e8" />
<path d="M356.1,299.66Q302.8,295 312.09,347.69" fill="none" stroke="#dadada" stroke-width="0.6" />
<path d="M284.5,345.27Q302.8,295 316.65,346.68" fill="none" stroke="#dadada" stroke-width="0.5" />
<path d="M280.19,343.49Q302.8,295 329.55,341.33" fill="none" stroke="#dadada" stroke-width="0.5" />
<path d="M293.51,347.69Q302.8,295 340.63,332.83" fill="none" stroke="#dadada" stroke-width="0.5" />
<path d="M288.95,346.68Q302.8,295 349.13,321.75" fill="none" stroke="#dadada" stroke-width="0.5" />
<path d="M298.14,348.3Q302.8,295 333.49,338.82" fill="none" stroke="#dadada" stroke-width="0.5" />
<path d="M295.35,347.98Q302.8,295 321.1,345.27" fill="none" stroke="#dadada" stroke-width="0.5" />
<path d="M326.25,246.91Q302.8,295 276.05,341.33" fill="none" stroke="#dadada" stroke-width="0.5" />
<path d="M328.74,248.21Q302.8,295 288.95,346.68" fill="none" stroke="#dadada" stroke-width="0.5" />
<path d="M274.85,249.38Q302.8,295 311.17,242.16" fill="none" stroke="#e9a27f" stroke-width="2.3" />
<path d="M277.68,247.76Q302.8,295 313.92,242.67" fill="none" stroke="#e9a27f" stroke-width="1.6" />
<path d="M270.6,252.27Q302.8,295 318.89,243.98" fill="none" stroke="#e9a27f" stroke-width="1.4" />
<path d="M267,255.24Q302.8,295 322.84,245.4" fill="none" stroke="#eeb08f" stroke-width="0.6" />
<path d="M280.19,246.51Q302.8,295 315.74,243.09" fill="none" stroke="#eeb08f" stroke-width="0.5" />
<path d="M273.66,339.87Q302.8,295 356.29,295.93" fill="none" stroke="#c9585a" stroke-width="0.6" />
<path d="M269.13,336.58Q302.8,295 356.23,292.2" fill="none" stroke="#c9585a" stroke-width="0.6" />
<path d="M265.97,333.81Q302.8,295 356.01,289.41" fill="none" stroke="#c9585a" stroke-width="0.6" />
<path d="M263.67,258.51Q302.8,295 350.89,271.55" fill="none" stroke="#c9585a" stroke-width="0.6" />
<clipPath id="cpC2R"><rect x="301" y="225" width="70" height="140"/></clipPath>
<g clip-path="url(#cpC2R)">
<path d="M258.19,265.47Q302.8,295 347.67,265.86" fill="none" stroke="#bc5052" stroke-width="3.42" />
<path d="M252.79,276Q302.8,295 352.58,275.39" fill="none" stroke="#bc5052" stroke-width="2.4699999999999998" />
<path d="M250.18,285.34Q302.8,295 353.96,279.36" fill="none" stroke="#bc5052" stroke-width="0.855" />
<path d="M249.3,295Q302.8,295 354.71,282.06" fill="none" stroke="#bc5052" stroke-width="0.855" />
<path d="M250.18,304.66Q302.8,295 355.32,284.79" fill="none" stroke="#bc5052" stroke-width="0.855" />
<path d="M252.79,314Q302.8,295 355.78,287.55" fill="none" stroke="#bc5052" stroke-width="0.855" />
<path d="M257.06,322.75Q302.8,295 356.1,290.34" fill="none" stroke="#bc5052" stroke-width="0.855" />
<path d="M260.5,327.75Q302.8,295 356.3,294.53" fill="none" stroke="#bc5052" stroke-width="2.4699999999999998" />
</g>
<clipPath id="cpC2"><rect x="230" y="225" width="71" height="140"/></clipPath>
<g clip-path="url(#cpC2)">
<path d="M255.56,269.88A53.5,53.5 0 0 1 261.22,261.33Q302.8,295 346.62,264.31A53.5,53.5 0 0 1 348.66,267.45Q302.8,295 255.56,269.88Z" fill="#bc5052" stroke="#fff" stroke-width="0.8"/>
<path d="M254.71,318.45A53.5,53.5 0 0 1 254.71,271.55Q302.8,295 352.05,274.1A53.5,53.5 0 0 1 355.9,288.48Q302.8,295 254.71,318.45Z" fill="#bc5052" stroke="#fff" stroke-width="0.8"/>
<path d="M262.42,330.1A53.5,53.5 0 0 1 255.56,320.12Q302.8,295 356.04,289.78A53.5,53.5 0 0 1 356.29,295.75Q302.8,295 262.42,330.1Z" fill="#bc5052" stroke="#fff" stroke-width="0.8"/>
</g>
<path d="M278.02,237.73A62.4,62.4 0 0 1 295.74,233L296.74,241.84A53.5,53.5 0 0 0 281.55,245.9Z" fill="#dc9a1e" />
<path d="M271.32,348.88A62.4,62.4 0 0 1 277.22,238.08L280.87,246.2A53.5,53.5 0 0 0 275.81,341.19Z" fill="#bc5052" />
<path d="M297.36,357.16A62.4,62.4 0 0 1 271.32,348.88L275.81,341.19A53.5,53.5 0 0 0 298.14,348.3Z" fill="#bbbbbb" />
<path d="M307.91,232.81A62.4,62.4 0 0 1 324.24,236.4L321.19,244.76A53.5,53.5 0 0 0 307.18,241.68Z" fill="#dc9a1e" />
<path d="M324.75,236.59A62.4,62.4 0 0 1 365.16,297.18L356.27,296.87A53.5,53.5 0 0 0 321.62,244.92Z" fill="#bc5052" />
<path d="M365.16,297.18A62.4,62.4 0 0 1 308.89,357.1L308.02,348.24A53.5,53.5 0 0 0 356.27,296.87Z" fill="#bbbbbb" />
<line x1="323.9" y1="245.29" x2="327.38" y2="237.1" stroke="#2b1a1a" stroke-width="0.55"/>
<line x1="326.39" y1="246.42" x2="330.27" y2="238.42" stroke="#2b1a1a" stroke-width="0.55"/>
<line x1="328.81" y1="247.68" x2="333.1" y2="239.88" stroke="#2b1a1a" stroke-width="0.55"/>
<line x1="331.18" y1="249.06" x2="335.85" y2="241.48" stroke="#2b1a1a" stroke-width="0.55"/>
<line x1="333.46" y1="250.55" x2="338.52" y2="243.22" stroke="#2b1a1a" stroke-width="0.55"/>
<line x1="335.67" y1="252.16" x2="341.09" y2="245.1" stroke="#2b1a1a" stroke-width="0.55"/>
<line x1="337.8" y1="253.88" x2="343.57" y2="247.1" stroke="#2b1a1a" stroke-width="0.55"/>
<line x1="339.83" y1="255.7" x2="345.94" y2="249.22" stroke="#2b1a1a" stroke-width="0.55"/>
<line x1="341.78" y1="257.62" x2="348.2" y2="251.46" stroke="#2b1a1a" stroke-width="0.55"/>
<line x1="343.62" y1="259.64" x2="350.34" y2="253.82" stroke="#2b1a1a" stroke-width="0.55"/>
<line x1="345.35" y1="261.75" x2="352.37" y2="256.27" stroke="#2b1a1a" stroke-width="0.55"/>
<line x1="346.98" y1="263.95" x2="354.26" y2="258.83" stroke="#2b1a1a" stroke-width="0.55"/>
<line x1="348.49" y1="266.22" x2="356.03" y2="261.48" stroke="#2b1a1a" stroke-width="0.55"/>
<line x1="349.89" y1="268.57" x2="357.65" y2="264.22" stroke="#2b1a1a" stroke-width="0.55"/>
<line x1="351.17" y1="270.99" x2="359.14" y2="267.03" stroke="#2b1a1a" stroke-width="0.55"/>
<line x1="352.32" y1="273.47" x2="360.48" y2="269.92" stroke="#2b1a1a" stroke-width="0.55"/>
<line x1="353.35" y1="276" x2="361.68" y2="272.87" stroke="#2b1a1a" stroke-width="0.55"/>
<line x1="354.24" y1="278.58" x2="362.72" y2="275.88" stroke="#2b1a1a" stroke-width="0.55"/>
<line x1="355.01" y1="281.21" x2="363.61" y2="278.93" stroke="#2b1a1a" stroke-width="0.55"/>
<line x1="355.64" y1="283.86" x2="364.35" y2="282.03" stroke="#2b1a1a" stroke-width="0.55"/>
<line x1="356.14" y1="286.55" x2="364.93" y2="285.16" stroke="#2b1a1a" stroke-width="0.55"/>
<line x1="356.49" y1="289.26" x2="365.34" y2="288.32" stroke="#2b1a1a" stroke-width="0.55"/>
<line x1="356.72" y1="291.99" x2="365.6" y2="291.49" stroke="#2b1a1a" stroke-width="0.55"/>
<line x1="356.8" y1="294.72" x2="365.7" y2="294.67" stroke="#2b1a1a" stroke-width="0.55"/>
<line x1="301" y1="221" x2="301" y2="371" stroke="#777" stroke-width="1.0"/>
<text x="288.19" y="240.46" font-size="4.4" fill="#111" font-weight="bold" font-style="normal" text-anchor="middle" transform="rotate(345 288.19 240.46)" >nc-AID</text>
<text x="246.41" y="295" font-size="4.6" fill="#fff" font-weight="bold" font-style="normal" text-anchor="middle" transform="rotate(270 246.41 295)" >c-AID</text>
<text x="284.31" y="351.89" font-size="5.2" fill="#111" font-weight="bold" font-style="italic" text-anchor="middle" transform="rotate(378 284.31 351.89)" >NCG</text>
<text x="273.06" y="237.97" font-size="4.3" fill="#222" font-weight="normal" font-style="normal" text-anchor="end" transform="rotate(63.8 273.06 237.97)" stroke="#222" stroke-width="0.12">RIN3</text>
<text x="268.39" y="240.66" font-size="4.3" fill="#222" font-weight="normal" font-style="normal" text-anchor="end" transform="rotate(59 268.39 240.66)" stroke="#222" stroke-width="0.12">PRKCH x2</text>
<text x="262.9" y="244.55" font-size="4.3" fill="#222" font-weight="normal" font-style="normal" text-anchor="end" transform="rotate(53 262.9 244.55)" stroke="#222" stroke-width="0.12">NAGPA</text>
<text x="260.74" y="246.34" font-size="4.3" fill="#222" font-weight="normal" font-style="normal" text-anchor="end" transform="rotate(50.5 260.74 246.34)" stroke="#222" stroke-width="0.12">AKAP13</text>
<text x="258.66" y="248.22" font-size="4.3" fill="#222" font-weight="normal" font-style="normal" text-anchor="end" transform="rotate(48 258.66 248.22)" stroke="#222" stroke-width="0.12">EPHA5</text>
<text x="256.66" y="250.19" font-size="4.3" fill="#222" font-weight="normal" font-style="normal" text-anchor="end" transform="rotate(45.5 256.66 250.19)" stroke="#222" stroke-width="0.12">SH3RF1</text>
<text x="250.74" y="257.23" font-size="4.3" fill="#222" font-weight="normal" font-style="normal" text-anchor="end" transform="rotate(37.3 250.74 257.23)" stroke="#222" stroke-width="0.12">MCL1 x4</text>
<text x="238.77" y="288.88" font-size="4.3" fill="#222" font-weight="normal" font-style="normal" text-anchor="end" transform="rotate(6.8 238.77 288.88)" stroke="#222" stroke-width="0.12">HIST1H1D x14</text>
<text x="246.19" y="325.53" font-size="4.3" fill="#222" font-weight="normal" font-style="normal" text-anchor="end" transform="rotate(-27 246.19 325.53)" stroke="#222" stroke-width="0.12">HIST1H1C x7</text>
<text x="256.02" y="339.14" font-size="4.3" fill="#222" font-weight="normal" font-style="normal" text-anchor="end" transform="rotate(-42 256.02 339.14)" stroke="#222" stroke-width="0.12">HIST1H1B x2</text>
<text x="262.18" y="344.87" font-size="4.3" fill="#222" font-weight="normal" font-style="normal" text-anchor="end" transform="rotate(-49.5 262.18 344.87)" stroke="#222" stroke-width="0.12">GREB1L</text>
<text x="264.85" y="346.93" font-size="4.3" fill="#222" font-weight="normal" font-style="normal" text-anchor="end" transform="rotate(-52.5 264.85 346.93)" stroke="#222" stroke-width="0.12">CELSR1</text>
<text x="267.62" y="348.84" font-size="4.3" fill="#222" font-weight="normal" font-style="normal" text-anchor="end" transform="rotate(-55.5 267.62 348.84)" stroke="#222" stroke-width="0.12">AKAP13</text>
<text x="270.49" y="350.61" font-size="4.3" fill="#222" font-weight="normal" font-style="normal" text-anchor="end" transform="rotate(-58.5 270.49 350.61)" stroke="#222" stroke-width="0.12">ADAM19</text>
<text x="274.95" y="352.97" font-size="4.3" fill="#222" font-weight="normal" font-style="normal" text-anchor="end" transform="rotate(-63 274.95 352.97)" stroke="#222" stroke-width="0.12">SH3TC</text>
<text x="278.33" y="354.48" font-size="4.3" fill="#222" font-weight="normal" font-style="normal" text-anchor="end" transform="rotate(-66.3 278.33 354.48)" stroke="#222" stroke-width="0.12">SEMA3E</text>
<text x="281.8" y="355.79" font-size="4.3" fill="#222" font-weight="normal" font-style="normal" text-anchor="end" transform="rotate(-69.6 281.8 355.79)" stroke="#222" stroke-width="0.12">ROS1</text>
<text x="285.33" y="356.9" font-size="4.3" fill="#222" font-weight="normal" font-style="normal" text-anchor="end" transform="rotate(-72.9 285.33 356.9)" stroke="#222" stroke-width="0.12">PARP4</text>
<text x="288.92" y="357.8" font-size="4.3" fill="#222" font-weight="normal" font-style="normal" text-anchor="end" transform="rotate(-76.2 288.92 357.8)" stroke="#222" stroke-width="0.12">MYH10</text>
<text x="292.56" y="358.5" font-size="4.3" fill="#222" font-weight="normal" font-style="normal" text-anchor="end" transform="rotate(-79.5 292.56 358.5)" stroke="#222" stroke-width="0.12">HIST1H1E</text>
<text x="296.23" y="358.98" font-size="4.3" fill="#222" font-weight="normal" font-style="normal" text-anchor="end" transform="rotate(-82.8 296.23 358.98)" stroke="#222" stroke-width="0.12">EPHA5</text>
<text x="366.52" y="303.77" font-size="4.3" fill="#222" font-weight="normal" font-style="normal" text-anchor="start" transform="rotate(6.5 366.52 303.77)" stroke="#222" stroke-width="0.12">SEMA6D</text>
<text x="364.94" y="311.58" font-size="4.3" fill="#222" font-weight="normal" font-style="normal" text-anchor="start" transform="rotate(13.6 364.94 311.58)" stroke="#222" stroke-width="0.12">ROS1 x3</text>
<text x="361.85" y="320.48" font-size="4.3" fill="#222" font-weight="normal" font-style="normal" text-anchor="start" transform="rotate(22 361.85 320.48)" stroke="#222" stroke-width="0.12">RIN3 x2</text>
<text x="359.93" y="324.54" font-size="4.3" fill="#222" font-weight="normal" font-style="normal" text-anchor="start" transform="rotate(26 359.93 324.54)" stroke="#222" stroke-width="0.12">PRKCH</text>
<text x="358.31" y="327.49" font-size="4.3" fill="#222" font-weight="normal" font-style="normal" text-anchor="start" transform="rotate(29 358.31 327.49)" stroke="#222" stroke-width="0.12">PDZD3</text>
<text x="356.22" y="330.82" font-size="4.3" fill="#222" font-weight="normal" font-style="normal" text-anchor="start" transform="rotate(32.5 356.22 330.82)" stroke="#222" stroke-width="0.12">PDIA4</text>
<text x="353.94" y="334.01" font-size="4.3" fill="#222" font-weight="normal" font-style="normal" text-anchor="start" transform="rotate(36 353.94 334.01)" stroke="#222" stroke-width="0.12">PAX5</text>
<text x="348.8" y="339.95" font-size="4.3" fill="#222" font-weight="normal" font-style="normal" text-anchor="start" transform="rotate(43 348.8 339.95)" stroke="#222" stroke-width="0.12">PARP4 x3</text>
<text x="338.45" y="348.53" font-size="4.3" fill="#222" font-weight="normal" font-style="normal" text-anchor="start" transform="rotate(55 338.45 348.53)" stroke="#222" stroke-width="0.12">NAGPA x4</text>
<text x="330.65" y="352.97" font-size="4.3" fill="#222" font-weight="normal" font-style="normal" text-anchor="start" transform="rotate(63 330.65 352.97)" stroke="#222" stroke-width="0.12">GREB1L</text>
<text x="324.75" y="355.45" font-size="4.3" fill="#222" font-weight="normal" font-style="normal" text-anchor="start" transform="rotate(68.7 324.75 355.45)" stroke="#222" stroke-width="0.12">CELSR1 x2</text>
<text x="318.53" y="357.36" font-size="4.3" fill="#222" font-weight="normal" font-style="normal" text-anchor="start" transform="rotate(74.5 318.53 357.36)" stroke="#222" stroke-width="0.12">AKAP13 x3</text>
<text x="311.93" y="358.67" font-size="4.3" fill="#222" font-weight="normal" font-style="normal" text-anchor="start" transform="rotate(80.5 311.93 358.67)" stroke="#222" stroke-width="0.12">ADAM19</text>
<text x="310.1" y="225.7" font-size="5.2" fill="#d9782e" font-weight="bold" font-style="italic" text-anchor="middle" textLength="13.5" lengthAdjust="spacingAndGlyphs" >Prkch</text>
<text x="328.3" y="226.3" font-size="5.2" fill="#d9782e" font-weight="bold" font-style="italic" text-anchor="middle" textLength="12" lengthAdjust="spacingAndGlyphs" >Pax5</text>
<text x="320.4" y="217.2" font-size="5.2" fill="#d9782e" font-weight="bold" font-style="italic" text-anchor="middle" textLength="22.5" lengthAdjust="spacingAndGlyphs" >Hist1h1d</text>
<line x1="303.3" y1="226.6" x2="316.8" y2="226.6" stroke="#d9782e" stroke-width="0.45"/>
<line x1="322.3" y1="227.2" x2="334.2" y2="227.2" stroke="#d9782e" stroke-width="0.45"/>
<line x1="309.1" y1="218.1" x2="331.6" y2="218.1" stroke="#d9782e" stroke-width="0.45"/>
<path d="M318.5,220.6 L318.5,240" stroke="#222" stroke-width="0.7"/>
<path d="M311.6,229.9 L317.5,240" stroke="#222" stroke-width="0.7"/>
<path d="M325.4,228.3 L320.5,240" stroke="#222" stroke-width="0.7"/>
<text x="330.9" y="232.8" font-size="4.3" fill="#c8221f" font-weight="bold" font-style="italic" text-anchor="start" textLength="13.8" lengthAdjust="spacingAndGlyphs" >Sh3rc1</text>
<text x="338.3" y="238.5" font-size="4.3" fill="#c8221f" font-weight="bold" font-style="italic" text-anchor="start" textLength="9" lengthAdjust="spacingAndGlyphs" >Ros1</text>
<text x="349.4" y="241.4" font-size="4.3" fill="#c8221f" font-weight="bold" font-style="italic" text-anchor="start" textLength="16.1" lengthAdjust="spacingAndGlyphs" >Sema6d</text>
<text x="351.6" y="248" font-size="4.3" fill="#c8221f" font-weight="bold" font-style="italic" text-anchor="start" textLength="11.6" lengthAdjust="spacingAndGlyphs" >Parp4</text>
<text x="359" y="256.5" font-size="4.3" fill="#c8221f" font-weight="bold" font-style="italic" text-anchor="start" textLength="12.5" lengthAdjust="spacingAndGlyphs" >Nagpa</text>
<text x="361.1" y="263.4" font-size="4.3" fill="#c8221f" font-weight="bold" font-style="italic" text-anchor="start" textLength="14.2" lengthAdjust="spacingAndGlyphs" >Myh10</text>
<text x="387.4" y="293.3" font-size="4.3" fill="#c8221f" font-weight="bold" font-style="italic" text-anchor="start" textLength="14.7" lengthAdjust="spacingAndGlyphs" >Greb1L</text>
<text x="387.4" y="298.4" font-size="4.3" fill="#c8221f" font-weight="bold" font-style="italic" text-anchor="start" textLength="13.2" lengthAdjust="spacingAndGlyphs" >EphA5</text>
<text x="387.4" y="303.9" font-size="4.3" fill="#c8221f" font-weight="bold" font-style="italic" text-anchor="start" textLength="14.7" lengthAdjust="spacingAndGlyphs" >Akap13</text>
<text x="392.6" y="263.4" font-size="6" fill="#c8221f" font-weight="bold" font-style="italic" text-anchor="start" textLength="11.8" lengthAdjust="spacingAndGlyphs" >Mcl1</text>
<line x1="392.6" y1="264.7" x2="404.4" y2="264.7" stroke="#c8221f" stroke-width="0.5"/>
<text x="392" y="271.7" font-size="6" fill="#c8221f" font-weight="bold" font-style="italic" text-anchor="start" textLength="22.8" lengthAdjust="spacingAndGlyphs" >Hist1h1b</text>
<line x1="392" y1="273.0" x2="414.8" y2="273.0" stroke="#c8221f" stroke-width="0.5"/>
<text x="391.4" y="278.3" font-size="6" fill="#c8221f" font-weight="bold" font-style="italic" text-anchor="start" textLength="22.5" lengthAdjust="spacingAndGlyphs" >Hist1h1d</text>
<line x1="391.4" y1="279.6" x2="413.9" y2="279.6" stroke="#c8221f" stroke-width="0.5"/>
<text x="390.9" y="286.4" font-size="6" fill="#c8221f" font-weight="bold" font-style="italic" text-anchor="start" textLength="21.8" lengthAdjust="spacingAndGlyphs" >Hist1h1c</text>
<line x1="390.9" y1="287.7" x2="412.7" y2="287.7" stroke="#c8221f" stroke-width="0.5"/>
<path d="M330.68,240.29 L333,234" stroke="#222" stroke-width="0.55" fill="none"/>
<path d="M334.42,242.37 L339,237" stroke="#222" stroke-width="0.55" fill="none"/>
<path d="M338.02,244.7 L348,240" stroke="#222" stroke-width="0.55" fill="none"/>
<path d="M343.08,248.66 L349,245" stroke="#222" stroke-width="0.55" fill="none"/>
<path d="M345.45,250.83 L352,249" stroke="#222" stroke-width="0.55" fill="none"/>
<path d="M349.84,255.53 L357,254" stroke="#222" stroke-width="0.55" fill="none"/>
<path d="M351.84,258.05 L359,258" stroke="#222" stroke-width="0.55" fill="none"/>
<path d="M354.29,261.56 L361,262" stroke="#222" stroke-width="0.55" fill="none"/>
<path d="M357.01,266.17 L388,262.5" stroke="#222" stroke-width="0.55" fill="none"/>
<path d="M358.45,269.05 L388,263" stroke="#222" stroke-width="0.55" fill="none"/>
<path d="M359.73,272 L389,270.5" stroke="#222" stroke-width="0.55" fill="none"/>
<path d="M361.19,276.03 L389,277" stroke="#222" stroke-width="0.55" fill="none"/>
<path d="M362.38,280.15 L388,285.5" stroke="#222" stroke-width="0.55" fill="none"/>
<path d="M363.27,284.34 L385,290.5" stroke="#222" stroke-width="0.55" fill="none"/>
<path d="M363.86,288.58 L385,296" stroke="#222" stroke-width="0.55" fill="none"/>
<path d="M364.14,292.32 L385,301.5" stroke="#222" stroke-width="0.55" fill="none"/>
<text x="232" y="245" font-size="9.4" fill="#a8262b" font-weight="bold" font-style="normal" text-anchor="middle" transform="rotate(-52 232 245)" textLength="30" lengthAdjust="spacingAndGlyphs" >DT-AID</text>
<text x="419.6" y="337.5" font-size="7.8" fill="#c8221f" font-weight="bold" font-style="italic" text-anchor="middle" textLength="46.5" lengthAdjust="spacingAndGlyphs" >Progressive</text>
<text x="419.6" y="347.6" font-size="7.8" fill="#c8221f" font-weight="bold" font-style="italic" text-anchor="middle" textLength="13.9" lengthAdjust="spacingAndGlyphs" >CLL</text>
<rect x="0" y="0" width="520" height="0.9" fill="#000"/>
<rect x="0" y="0" width="0.95" height="386" fill="#000"/>
<rect x="518.9" y="0" width="1.1" height="386" fill="#000"/>
<rect x="0" y="384.8" width="520" height="1.2" fill="#000"/>
</svg></body></html>
